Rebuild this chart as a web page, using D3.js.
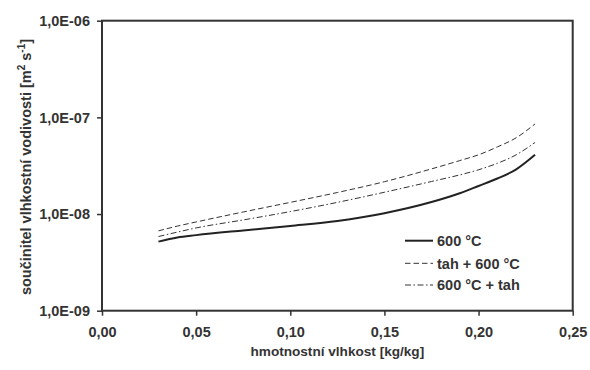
<!DOCTYPE html>
<html>
<head>
  <meta charset="utf-8">
  <title>Součinitel vlhkostní vodivosti</title>
  <style>
    body { margin: 0; background: #fff; }
    svg { font-family: "Liberation Sans", Arial, sans-serif; font-weight: bold; }
    .tick text { fill: #333; font-size: 14.5px; }
    .tick line { stroke: #333; stroke-width: 1.5px; }
    .frame { fill: none; stroke: #333; stroke-width: 2px; }
    .series { fill: none; }
  </style>
</head>
<body>
  <div id="chart"></div>

  <script src="https://d3js.org/d3.v7.min.js"></script>
  <script>
    // moisture content [kg/kg]
    const moisture = [0.03, 0.04, 0.05, 0.075, 0.10, 0.125, 0.15, 0.175, 0.19, 0.20, 0.21, 0.22, 0.23];
    // moisture diffusivity [m2 s-1]
    const series600 = [5.18e-9, 5.73e-9, 6.05e-9, 6.77e-9, 7.53e-9, 8.48e-9, 1.02e-8, 1.33e-8, 1.64e-8, 1.95e-8, 2.33e-8, 2.9e-8, 4.1e-8];
    const seriesTah600 = [6.7e-9, 7.5e-9, 8.28e-9, 1.05e-8, 1.32e-8, 1.67e-8, 2.16e-8, 2.93e-8, 3.57e-8, 4.1e-8, 4.95e-8, 6.15e-8, 8.55e-8];
    const series600Tah = [5.85e-9, 6.5e-9, 7.18e-9, 8.69e-9, 1.06e-8, 1.32e-8, 1.68e-8, 2.17e-8, 2.54e-8, 2.87e-8, 3.35e-8, 4.1e-8, 5.5e-8];
    const legendLabels = ["600 °C", "tah + 600 °C", "600 °C + tah"];
    const xTicks = [0, 0.05, 0.10, 0.15, 0.20, 0.25];
    const yTicks = [1e-9, 1e-8, 1e-7, 1e-6];

    const width = 590, height = 370;
    const plotLeft = 102, plotRight = 572.7, plotTop = 20.7, plotBottom = 310.7;

    const svg = d3.select("#chart")
      .append("svg")
      .attr("width", width)
      .attr("height", height);

    const xScale = d3.scaleLinear().domain([0, 0.25]).range([plotLeft, plotRight]);
    const yScale = d3.scaleLog().domain([1e-9, 1e-6]).range([plotBottom, plotTop]);

    // axes
    const xAxis = d3.axisBottom(xScale)
      .tickValues(xTicks)
      .tickSize(5)
      .tickPadding(11)
      .tickFormat(d => d3.format(".2f")(d).replace(".", ","));
    const yAxis = d3.axisLeft(yScale)
      .tickValues(yTicks)
      .tickSize(5)
      .tickPadding(7)
      .tickFormat(d => "1,0E-" + String(Math.round(-Math.log10(d))).padStart(2, "0"));

    svg.append("g")
      .attr("class", "x-axis")
      .attr("transform", "translate(0," + plotBottom + ")")
      .call(xAxis)
      .call(g => g.select(".domain").remove())
      .call(g => g.selectAll("text").attr("font-family", null).attr("font-size", null));

    svg.append("g")
      .attr("class", "y-axis")
      .attr("transform", "translate(" + plotLeft + ",0)")
      .call(yAxis)
      .call(g => g.select(".domain").remove())
      .call(g => g.selectAll("text").attr("font-family", null).attr("font-size", null));

    // plot frame
    svg.append("rect")
      .attr("class", "frame")
      .attr("x", plotLeft)
      .attr("y", plotTop)
      .attr("width", plotRight - plotLeft)
      .attr("height", plotBottom - plotTop);

    // series
    const line = d3.line()
      .x((d, i) => xScale(moisture[i]))
      .y(d => yScale(d))
      .curve(d3.curveMonotoneX);

    const styles = [
      { stroke: "#222", width: 2, dash: null },
      { stroke: "#333", width: 1, dash: "5.5,3" },
      { stroke: "#333", width: 1, dash: "6,2.5,1.5,2.5" }
    ];
    const allSeries = [series600, seriesTah600, series600Tah];

    allSeries.forEach((s, i) => {
      svg.append("path")
        .datum(s)
        .attr("class", "series")
        .attr("stroke", styles[i].stroke)
        .attr("stroke-width", styles[i].width)
        .attr("stroke-dasharray", styles[i].dash)
        .attr("d", line);
    });

    // legend
    const legendRows = [240.7, 263.3, 285];
    legendLabels.forEach((label, i) => {
      svg.append("line")
        .attr("x1", 405).attr("x2", 433)
        .attr("y1", legendRows[i]).attr("y2", legendRows[i])
        .attr("stroke", styles[i].stroke)
        .attr("stroke-width", styles[i].width)
        .attr("stroke-dasharray", styles[i].dash);
      svg.append("text")
        .attr("x", 437)
        .attr("y", legendRows[i] + 5.2)
        .attr("fill", "#333")
        .attr("font-size", 14.5)
        .text(label);
    });

    // axis titles
    svg.append("text")
      .attr("x", (plotLeft + plotRight) / 2)
      .attr("y", 356)
      .attr("text-anchor", "middle")
      .attr("fill", "#333")
      .attr("font-size", 13.6)
      .text("hmotnostní vlhkost [kg/kg]");

    const yTitle = svg.append("text")
      .attr("transform", "translate(31,167) rotate(-90)")
      .attr("text-anchor", "middle")
      .attr("fill", "#333")
      .attr("font-size", 14.5);
    yTitle.append("tspan").text("součinitel vlhkostní vodivosti [m");
    yTitle.append("tspan").attr("dy", -6.5).attr("font-size", 10).text("2");
    yTitle.append("tspan").attr("dy", 6.5).text(" s");
    yTitle.append("tspan").attr("dy", -6.5).attr("font-size", 10).text("-1");
    yTitle.append("tspan").attr("dy", 6.5).text("]");
  </script>
</body>
</html>
